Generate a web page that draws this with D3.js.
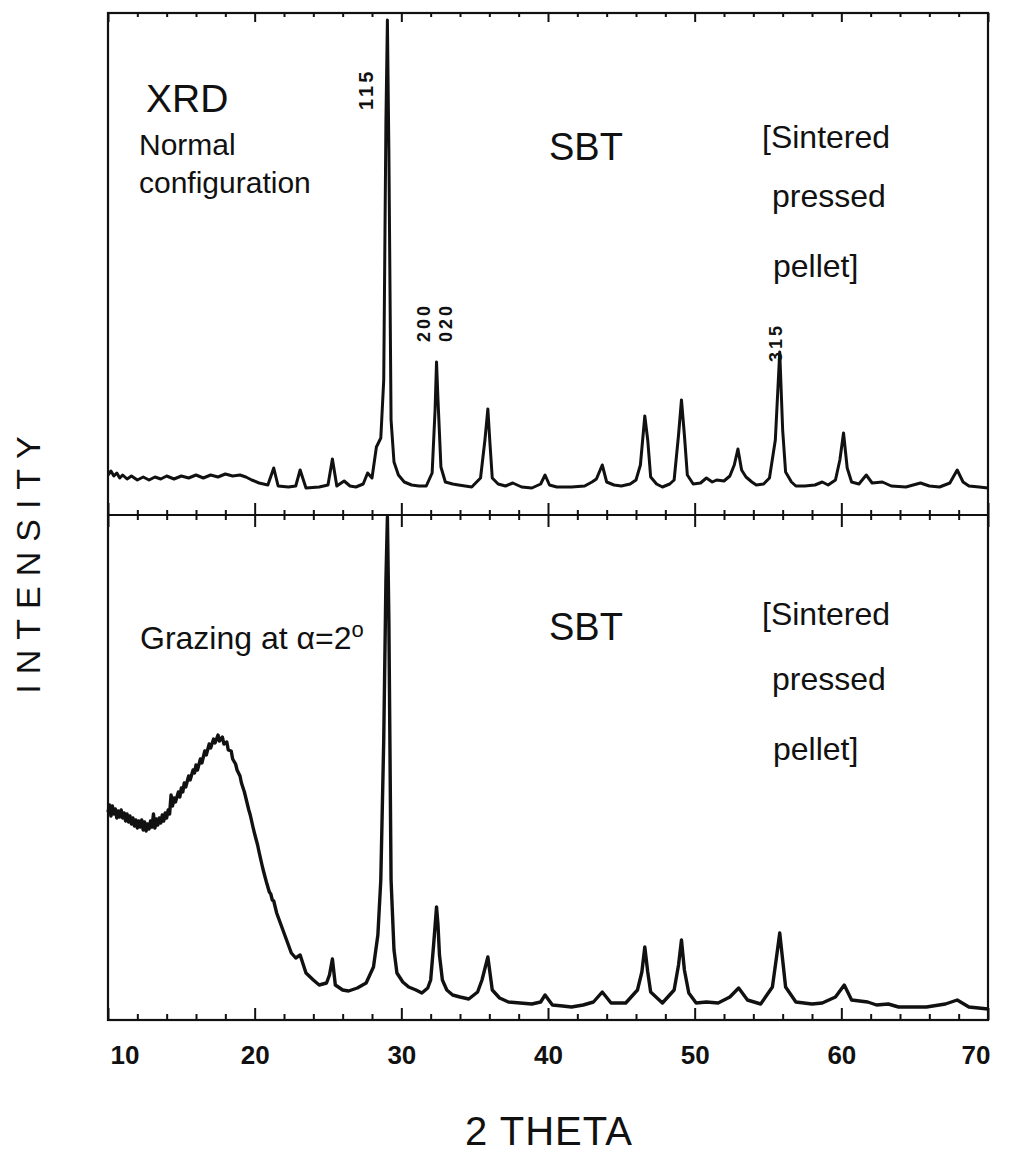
<!DOCTYPE html>
<html>
<head>
<meta charset="utf-8">
<script src="https://cdn.jsdelivr.net/npm/d3@7"></script>
<style>
  body { margin: 0; background: #fff; }
  svg text { font-family: "Liberation Sans", Arial, sans-serif; fill: #111; }
</style>
</head>
<body>
<div id="chart"></div>
<script>
// 2-theta / intensity (arb. units)
const normalScan = [
  [10.0, 80], [10.2, 88], [10.4, 78], [10.6, 84], [10.8, 74], [11.0, 80], [11.3, 72],
  [11.6, 78], [12.0, 70], [12.4, 76], [12.8, 70], [13.2, 76], [13.6, 72], [14.0, 78],
  [14.5, 72], [15.0, 78], [15.5, 74], [16.0, 80], [16.5, 74], [17.0, 80], [17.5, 76],
  [18.0, 82], [18.5, 78], [19.0, 80], [19.4, 76], [19.8, 70], [20.3, 64], [20.9, 60],
  [21.3, 94], [21.6, 58], [22.3, 56], [22.8, 58], [23.1, 90], [23.5, 54], [24.4, 56],
  [25.0, 60], [25.3, 112], [25.6, 58], [26.1, 68], [26.5, 58], [26.9, 56], [27.4, 62],
  [27.7, 84], [28.0, 74], [28.3, 136], [28.6, 154], [28.8, 270], [28.95, 790],
  [29.05, 990], [29.15, 730], [29.3, 190], [29.5, 106], [29.8, 80], [30.2, 66],
  [30.7, 60], [31.2, 58], [31.7, 58], [32.1, 84], [32.3, 210], [32.4, 306], [32.5, 230],
  [32.7, 96], [33.0, 66], [33.5, 62], [33.9, 60], [34.8, 56], [35.4, 74], [35.7, 150],
  [35.9, 212], [36.05, 140], [36.2, 74], [36.6, 62], [37.1, 58], [37.6, 64], [38.2, 56],
  [38.9, 54], [39.5, 62], [39.8, 80], [40.1, 60], [40.6, 56], [41.6, 56], [42.5, 58],
  [43.0, 66], [43.3, 72], [43.7, 100], [44.0, 66], [44.5, 60], [45.0, 58], [45.6, 62],
  [46.0, 70], [46.3, 100], [46.6, 198], [46.8, 150], [47.0, 76], [47.4, 62], [47.8, 56],
  [48.3, 62], [48.6, 70], [48.9, 160], [49.1, 230], [49.3, 160], [49.5, 80], [49.9, 62],
  [50.4, 64], [50.8, 74], [51.2, 66], [51.5, 70], [52.0, 68], [52.4, 78], [52.7, 100],
  [52.95, 132], [53.2, 90], [53.5, 76], [53.9, 66], [54.2, 60], [54.7, 62], [55.1, 74],
  [55.5, 150], [55.8, 326], [56.0, 170], [56.2, 86], [56.6, 66], [56.9, 58], [57.5, 58],
  [58.2, 60], [58.7, 66], [59.1, 60], [59.6, 70], [59.9, 110], [60.15, 164], [60.4, 94],
  [60.7, 66], [61.2, 62], [61.7, 80], [62.1, 64], [62.8, 66], [63.4, 58], [64.4, 56],
  [65.4, 64], [66.0, 58], [66.7, 56], [67.4, 64], [67.9, 90], [68.3, 66], [68.7, 58],
  [69.4, 56], [70.0, 54]
];

const grazingScan = [
  [10.0, 416], [10.1, 430], [10.2, 408], [10.3, 428], [10.4, 412], [10.5, 422],
  [10.6, 404], [10.7, 418], [10.8, 406], [10.9, 420], [11.0, 404], [11.1, 414],
  [11.2, 398], [11.3, 412], [11.4, 396], [11.5, 408], [11.6, 392], [11.7, 404],
  [11.8, 388], [11.9, 400], [12.0, 384], [12.1, 398], [12.2, 386], [12.3, 400],
  [12.4, 380], [12.5, 396], [12.6, 378], [12.7, 392], [12.8, 382], [12.9, 398],
  [13.0, 386], [13.1, 412], [13.2, 384], [13.3, 402], [13.4, 390], [13.5, 404],
  [13.6, 394], [13.7, 410], [13.8, 398], [13.9, 414], [14.0, 404], [14.1, 420],
  [14.2, 412], [14.3, 450], [14.4, 428], [14.5, 444], [14.6, 436], [14.8, 456],
  [14.9, 446], [15.0, 464], [15.1, 456], [15.2, 474], [15.3, 466], [15.5, 488],
  [15.6, 480], [15.8, 500], [15.9, 494], [16.0, 510], [16.1, 500], [16.3, 522],
  [16.4, 514], [16.6, 538], [16.7, 530], [16.9, 552], [17.0, 544], [17.2, 562],
  [17.3, 554], [17.5, 570], [17.6, 558], [17.8, 566], [17.9, 552], [18.1, 556],
  [18.2, 540], [18.4, 538], [18.5, 522], [18.7, 512], [18.8, 500], [19.0, 488],
  [19.1, 474], [19.3, 456], [19.4, 444], [19.6, 420], [19.7, 410], [19.9, 384],
  [20.0, 372], [20.2, 350], [20.3, 336], [20.5, 310], [20.6, 298], [20.8, 276],
  [21.0, 256], [21.1, 252], [21.2, 240], [21.3, 238], [21.5, 214], [21.6, 206],
  [22.1, 166], [22.5, 134], [22.8, 124], [23.1, 130], [23.5, 94], [24.0, 80],
  [24.4, 70], [24.9, 74], [25.1, 90], [25.3, 122], [25.5, 70], [26.0, 60], [26.4, 58],
  [27.0, 64], [27.6, 74], [28.1, 106], [28.4, 170], [28.6, 280], [28.8, 560],
  [28.95, 880], [29.05, 1006], [29.15, 800], [29.3, 280], [29.5, 140], [29.7, 94],
  [30.1, 76], [30.5, 66], [31.0, 60], [31.4, 54], [31.8, 64], [32.0, 80], [32.2, 150],
  [32.4, 226], [32.5, 190], [32.6, 130], [32.8, 80], [33.1, 60], [33.5, 50], [34.0, 46],
  [34.6, 42], [35.2, 56], [35.5, 80], [35.9, 126], [36.2, 60], [36.7, 44], [37.3, 36],
  [38.1, 34], [38.9, 32], [39.5, 36], [39.8, 50], [40.3, 30], [41.0, 28], [41.6, 26],
  [42.4, 30], [43.1, 36], [43.7, 56], [44.3, 34], [45.3, 34], [46.1, 60], [46.4, 96],
  [46.6, 146], [46.8, 96], [47.0, 56], [47.8, 34], [48.6, 60], [48.9, 110], [49.1, 160],
  [49.3, 100], [49.6, 54], [50.1, 34], [50.8, 36], [51.6, 34], [52.4, 46], [53.0, 64],
  [53.6, 40], [54.5, 32], [55.3, 66], [55.6, 130], [55.8, 174], [56.0, 120],
  [56.2, 66], [56.9, 36], [58.0, 32], [58.7, 34], [59.6, 46], [60.2, 70], [60.7, 40],
  [61.8, 36], [62.4, 30], [63.2, 32], [63.9, 26], [65.8, 26], [67.1, 32], [67.9, 40],
  [68.7, 26], [70.0, 22]
];

const majorTicks = [10, 20, 30, 40, 50, 60, 70];
const minorTicks = [12, 14, 16, 18, 22, 24, 26, 28, 32, 34, 36, 38, 42, 44, 46, 48,
  52, 54, 56, 58, 62, 64, 66, 68];

const W = 1012, H = 1153;
const plotLeft = 108, plotRight = 988, plotTop = 13, plotMid = 515, plotBottom = 1020;

const svg = d3.select('#chart').append('svg')
  .attr('width', W).attr('height', H);

const x = d3.scaleLinear().domain([10, 70]).range([plotLeft, plotRight]);
const yTop = d3.scaleLinear().domain([0, 1004]).range([plotMid, plotTop]);
const yBot = d3.scaleLinear().domain([0, 1010]).range([plotBottom, plotMid]);

// frame
svg.append('rect')
  .attr('x', plotLeft).attr('y', plotTop)
  .attr('width', plotRight - plotLeft).attr('height', plotBottom - plotTop)
  .attr('fill', 'none').attr('stroke', '#111').attr('stroke-width', 2.2);

function tickAxis(gen, y, size, values) {
  const g = svg.append('g')
    .attr('transform', `translate(0,${y})`)
    .call(gen(x).tickValues(values).tickSize(size).tickFormat(''));
  g.select('.domain').remove();
  g.selectAll('line').attr('stroke', '#111').attr('stroke-width', 2);
  return g;
}

// top edge: ticks pointing down into the plot
tickAxis(d3.axisBottom, plotTop, 9, majorTicks);
tickAxis(d3.axisBottom, plotTop, 4, minorTicks);
// middle: ticks crossing the shared axis
svg.append('line').attr('x1', plotLeft).attr('x2', plotRight)
  .attr('y1', plotMid).attr('y2', plotMid)
  .attr('stroke', '#111').attr('stroke-width', 2.2);
tickAxis(d3.axisBottom, plotMid, 12, majorTicks);
tickAxis(d3.axisTop, plotMid, 12, majorTicks);
tickAxis(d3.axisBottom, plotMid, 5, minorTicks);
tickAxis(d3.axisTop, plotMid, 5, minorTicks);
// bottom edge: ticks pointing up
tickAxis(d3.axisTop, plotBottom, 12, majorTicks);
tickAxis(d3.axisTop, plotBottom, 6, minorTicks);

// tick labels (end labels sit inside the frame)
const labels = svg.append('g')
  .attr('transform', `translate(0,${plotBottom + 23})`)
  .call(d3.axisBottom(x).tickValues(majorTicks).tickSize(0).tickFormat(d3.format('d')));
labels.select('.domain').remove();
labels.selectAll('text')
  .attr('font-size', 26).attr('font-weight', 'bold')
  .attr('font-family', '"Liberation Sans", Arial, sans-serif').attr('fill', '#111')
  .attr('text-anchor', d => d === 10 ? 'start' : d === 70 ? 'end' : 'middle')
  .attr('dx', d => d === 10 ? 2 : d === 70 ? 2 : 0);

// scans
const lineTop = d3.line().x(d => x(d[0])).y(d => yTop(d[1]));
const lineBot = d3.line().x(d => x(d[0])).y(d => yBot(d[1]));

svg.append('path').datum(normalScan)
  .attr('d', lineTop).attr('fill', 'none')
  .attr('stroke', '#111').attr('stroke-width', 3).attr('stroke-linejoin', 'round');

svg.append('path').datum(grazingScan)
  .attr('d', lineBot).attr('fill', 'none')
  .attr('stroke', '#111').attr('stroke-width', 3.4).attr('stroke-linejoin', 'round');

// texts
function label(txt, tx, ty, size, opts = {}) {
  const t = svg.append('text')
    .attr('x', tx).attr('y', ty)
    .attr('font-size', size)
    .attr('text-anchor', opts.anchor || 'start')
    .text(txt);
  if (opts.weight) t.attr('font-weight', opts.weight);
  if (opts.spacing) t.attr('letter-spacing', opts.spacing);
  if (opts.rotate) t.attr('transform', `rotate(-90,${tx},${ty})`);
  return t;
}

label('XRD', 146, 112, 39);
label('Normal', 139, 155, 30);
label('configuration', 139, 193, 30);
label('SBT', 549, 160, 38);
label('[Sintered', 762, 148, 32);
label('pressed', 772, 207, 32);
label('pellet]', 773, 277, 32);

label('115', 373, 110, 20, { weight: 'bold', spacing: 3, rotate: true });
label('200', 430, 342, 18, { weight: 'bold', spacing: 3, rotate: true });
label('020', 452, 342, 18, { weight: 'bold', spacing: 3, rotate: true });
label('315', 782, 362, 18, { weight: 'bold', spacing: 3, rotate: true });

const graz = label('Grazing at ', 140, 649, 32);
graz.append('tspan').text('α=2');
graz.append('tspan').attr('font-size', 22).attr('dy', -12).text('o');
label('SBT', 549, 640, 38);
label('[Sintered', 762, 625, 32);
label('pressed', 772, 690, 32);
label('pellet]', 773, 760, 32);

label('2 THETA', 549, 1145, 40, { anchor: 'middle', spacing: 1 });
label('INTENSITY', 40, 560, 34, { anchor: 'middle', spacing: 10, rotate: true });
</script>
</body>
</html>
